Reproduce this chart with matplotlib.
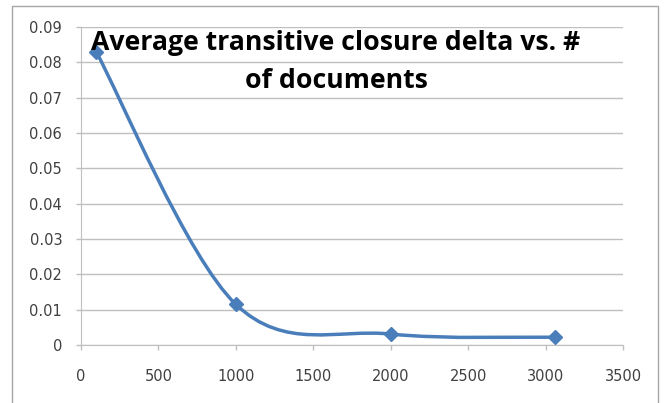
import matplotlib
matplotlib.use('Agg')
import matplotlib.pyplot as plt
from matplotlib.path import Path
from matplotlib.patches import PathPatch, Rectangle
import numpy as np

# data
docs = [100, 1000, 2000, 3060]
delta = [0.0828, 0.0115, 0.0031, 0.0022]
title_lines = ['Average transitive closure delta vs. #', 'of documents']
xticks = [0, 500, 1000, 1500, 2000, 2500, 3000, 3500]
yticks = [0, 0.01, 0.02, 0.03, 0.04, 0.05, 0.06, 0.07, 0.08, 0.09]

LINE = '#4a7ebb'
GRID = '#bfbfbf'


def smooth_path(x, y):
    # excel-like smoothed line: cubic bezier segments (catmull-rom style)
    pts = np.column_stack([x, y]).astype(float)
    n = len(pts)
    verts = [pts[0]]
    codes = [Path.MOVETO]
    for i in range(n - 1):
        p0 = pts[i - 1] if i > 0 else pts[i]
        p1 = pts[i]
        p2 = pts[i + 1]
        p3 = pts[i + 2] if i + 2 < n else pts[i + 1]
        c1 = p1 + (p2 - p0) / 6.0
        c2 = p2 - (p3 - p1) / 6.0
        verts += [c1, c2, p2]
        codes += [Path.CURVE4] * 3
    return Path(verts, codes)


fig = plt.figure(figsize=(6.64, 4.03), dpi=100)
ax = fig.add_axes([81 / 664, 1 - 345 / 403, (623 - 81) / 664, (345 - 27) / 403])

# outer chart border (open at the bottom, cropped)
fig.patches.append(Rectangle((12 / 664, -0.05), (658 - 12) / 664, 1 - 6 / 403 + 0.05,
                             transform=fig.transFigure, fill=False,
                             edgecolor='#a6a6a6', linewidth=1.0))

ax.add_patch(PathPatch(smooth_path(docs, delta), facecolor='none',
                       edgecolor=LINE, linewidth=2.5, zorder=3))
ax.plot(docs, delta, linestyle='none', marker='D', markersize=7,
        color=LINE, zorder=4)

ax.set_xlim(0, 3500)
ax.set_ylim(0, 0.09)
ax.set_xticks(xticks)
ax.set_yticks(yticks)
ax.set_xticklabels([str(t) for t in xticks])
ax.set_yticklabels(['0'] + ['%.2f' % t for t in yticks[1:]])

ax.grid(axis='y', color=GRID, linewidth=1.0)
ax.set_axisbelow(True)
for side in ['top', 'right']:
    ax.spines[side].set_visible(False)
for side in ['left', 'bottom']:
    ax.spines[side].set_color(GRID)
ax.tick_params(axis='both', colors=GRID, labelcolor='#404040',
               labelsize=10.5, length=3.5, width=1)
ax.tick_params(axis='x', pad=13.5)
ax.tick_params(axis='y', pad=10)

fig.text(336 / 664, 1 - 43 / 403, title_lines[0], ha='center', va='center',
         fontsize=19.2, fontweight='bold', family='Open Sans', color='black')
fig.text(336 / 664, 1 - 81 / 403, title_lines[1], ha='center', va='center',
         fontsize=19.2, fontweight='bold', family='Open Sans', color='black')

fig.savefig('out.png', dpi=100, facecolor='white')
